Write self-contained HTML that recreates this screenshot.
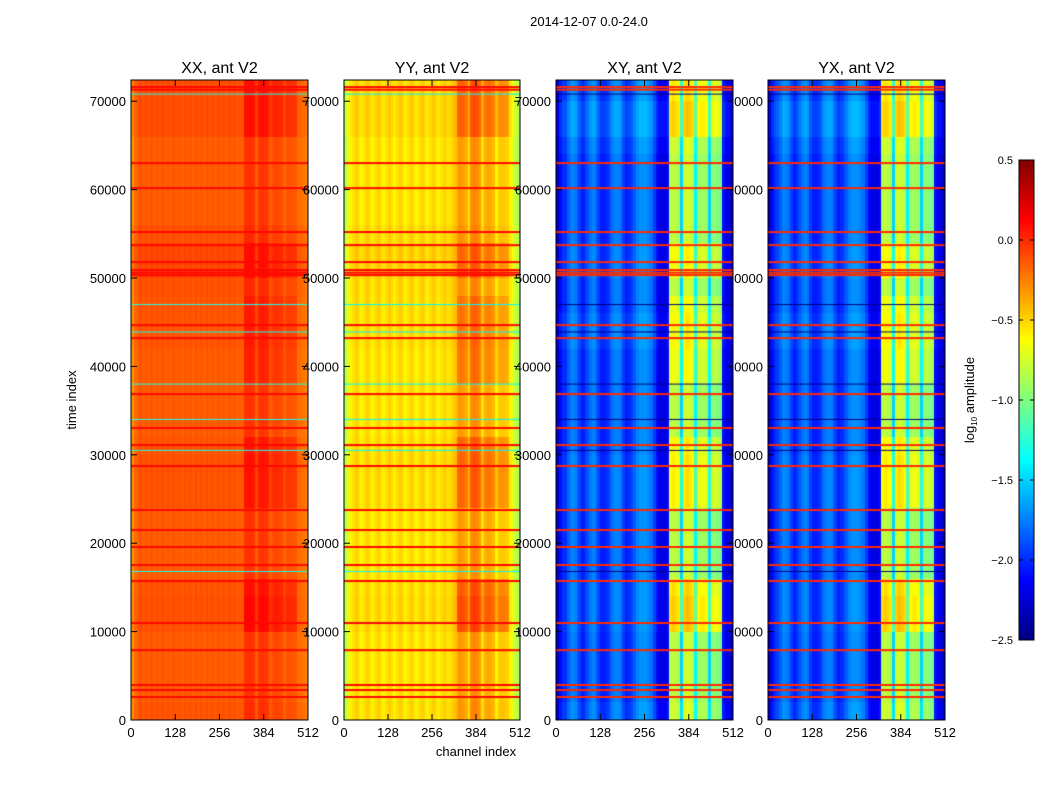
<!DOCTYPE html>
<html><head><meta charset="utf-8">
<style>
body{margin:0;background:#fff;width:1050px;height:800px;overflow:hidden;position:relative;font-family:"Liberation Sans",sans-serif;}
canvas{position:absolute;}
svg{position:absolute;left:0;top:0;}
</style></head>
<body>
<canvas id="c0" width="177" height="640" style="left:131px;top:80px;z-index:2"></canvas>
<canvas id="c1" width="176" height="640" style="left:344px;top:80px;z-index:2"></canvas>
<svg id="labels" width="1050" height="800" style="z-index:3"></svg>
<canvas id="c2" width="177" height="640" style="left:556px;top:80px;z-index:4"></canvas>
<canvas id="c3" width="177" height="640" style="left:768px;top:80px;z-index:2"></canvas>
<canvas id="cb" width="15" height="480" style="left:1019px;top:160px;z-index:2"></canvas>
<svg id="frames" width="1050" height="800" style="z-index:5"></svg>
<script>
// ---- data ----
const panelTitles = ["XX, ant V2","YY, ant V2","XY, ant V2","YX, ant V2"];
const xTicks = [0,128,256,384,512];
const yTicks = [0,10000,20000,30000,40000,50000,60000,70000];
const cbTicks = [0.5,0.0,-0.5,-1.0,-1.5,-2.0,-2.5];
// channel profiles, 64 bins of 8 channels (log10 amplitude)
const xxProfile = [-0.3,-0.2,-0.15,-0.12,-0.15,-0.13,-0.16,-0.12,-0.15,-0.13,-0.16,-0.12,-0.15,-0.13,-0.16,-0.12,-0.15,-0.13,-0.16,-0.12,-0.15,-0.13,-0.16,-0.12,-0.15,-0.13,-0.16,-0.12,-0.15,-0.13,-0.16,-0.12,-0.15,-0.13,-0.16,-0.12,-0.15,-0.13,-0.16,-0.15,-0.15,-0.02,-0.02,-0.02,-0.04,-0.15,-0.04,-0.02,-0.04,-0.06,-0.15,-0.1,-0.08,-0.1,-0.1,-0.18,-0.12,-0.12,-0.13,-0.14,-0.2,-0.2,-0.22,-0.25];
const yyProfile = [-0.85,-0.7,-0.6,-0.55,-0.5,-0.55,-0.6,-0.55,-0.5,-0.55,-0.6,-0.55,-0.5,-0.55,-0.6,-0.55,-0.5,-0.55,-0.6,-0.55,-0.5,-0.55,-0.6,-0.55,-0.5,-0.55,-0.6,-0.55,-0.5,-0.55,-0.6,-0.55,-0.5,-0.55,-0.6,-0.55,-0.5,-0.55,-0.55,-0.5,-0.45,-0.35,-0.32,-0.35,-0.4,-0.55,-0.3,-0.27,-0.3,-0.35,-0.55,-0.4,-0.37,-0.4,-0.43,-0.6,-0.48,-0.45,-0.48,-0.5,-0.6,-0.7,-0.8,-0.9];
const xyProfile = [-2.3,-2.1,-2.0,-2.0,-1.85,-1.75,-1.75,-1.8,-1.95,-2.05,-2.0,-1.9,-1.8,-1.75,-1.8,-1.95,-2.05,-2.05,-2.0,-1.9,-1.8,-1.75,-1.75,-1.8,-1.95,-2.05,-2.0,-1.95,-1.85,-1.75,-1.7,-1.7,-1.7,-1.75,-1.8,-1.95,-2.1,-2.2,-2.2,-2.2,-2.1,-0.85,-0.8,-0.85,-0.9,-1.5,-0.8,-0.75,-0.8,-0.85,-1.4,-0.95,-0.9,-0.9,-0.95,-1.5,-1.0,-0.95,-1.0,-1.05,-2.1,-2.2,-2.2,-2.3];
const yxProfile = [-2.3,-2.1,-2.0,-1.95,-1.85,-1.75,-1.75,-1.8,-1.95,-2.05,-2.0,-1.9,-1.8,-1.75,-1.8,-1.95,-2.05,-2.05,-2.0,-1.9,-1.8,-1.75,-1.75,-1.8,-1.95,-2.05,-2.0,-1.95,-1.85,-1.75,-1.7,-1.7,-1.7,-1.75,-1.8,-1.95,-2.1,-2.2,-2.2,-2.2,-2.1,-0.85,-0.8,-0.85,-0.9,-1.5,-0.8,-0.75,-0.8,-0.85,-1.4,-0.95,-0.9,-0.9,-0.95,-1.5,-1.0,-0.95,-1.0,-1.05,-2.1,-2.2,-2.2,-2.3];
// time-bin offsets, 36 bins of 2000
const autoRowOffset = [0.02,0,0,0,0,0.03,0.03,0.02,0,0,0,0,0.02,0.02,0.03,0.02,0,0,0,0,0,0.02,0.02,0.02,0.03,0.06,0.06,0.03,0,0,0,0,0,0.04,0.04,0.04];
const crossRowOffset = [0.05,0,0,0,0,0.03,0.03,0.03,0,0,0,0,0.03,0.03,0.03,0,0,0,0,0,0,0.05,0.05,0,0,0.03,0.03,0,0,0,0,0,0.05,0.12,0.12,0.05];
const rfiBoost = [0,0,0,0,0,0.3,0.3,0.25,0,0,0,0,0.2,0.2,0.2,0.2,0,0,0,0.15,0.15,0.15,0.15,0.15,0,0.15,0.15,0,0,0,0,0,0,0.2,0.2,0.2];
const rfiScaleByPanel = [0.35,0.7,1,1];
// flagged (RFI) time rows
const flagTimes = [71600,71300,63000,60170,55200,53720,51800,50900,50600,50330,44670,43200,36870,33030,31100,28730,23750,21490,19570,17530,15720,10970,7900,3960,3390,2600];
const flagValueByPanel = [0.1,0.1,0.0,0.0];
const lowTimes = [70800,43900,38000,34000,47000,30500,16800];
const lowValueByPanel = [-1.3,-1.4,-2.5,-2.5];
const tMax = 72400;
const profiles = [xxProfile,yyProfile,xyProfile,yxProfile];
const rowOffsets = [autoRowOffset,autoRowOffset,crossRowOffset,crossRowOffset];

// ---- scales ----
const vmin=-2.5, vmax=0.5;
function jet(v){let t=(v-vmin)/(vmax-vmin);t=Math.max(0,Math.min(1,t));
 const c=x=>Math.round(255*Math.max(0,Math.min(1,x)));
 return [c(1.5-Math.abs(4*t-3)),c(1.5-Math.abs(4*t-2)),c(1.5-Math.abs(4*t-1))];}
const panelX=[131,344,556,768], panelW=[177,176,177,177], topY=80, H=640;
function yOf(t){return H - t/tMax*H;}
function xOf(ch,w){return ch/512*w;}

// ---- heatmaps ----
for(let p=0;p<4;p++){
 const cv=document.getElementById('c'+p), ctx=cv.getContext('2d'), w=panelW[p];
 const prof=profiles[p], ro=rowOffsets[p];
 const img=ctx.createImageData(w,H);
 for(let y=0;y<H;y++){
  const t=(H-y-0.5)/H*tMax; const bi=Math.min(35,Math.floor(t/2000));
  for(let x=0;x<w;x++){
   const ch=(x+0.5)/w*512; const k=Math.min(63,Math.floor(ch/8));
   let v=prof[k]+ro[bi]; if(ch>=328&&ch<480) v+=rfiBoost[bi]*rfiScaleByPanel[p];
   const c=jet(v), i=(y*w+x)*4; img.data[i]=c[0];img.data[i+1]=c[1];img.data[i+2]=c[2];img.data[i+3]=255;
  }}
 ctx.putImageData(img,0,0);
 flagTimes.forEach(t=>{const c=jet(flagValueByPanel[p]);ctx.fillStyle='rgb('+c.join(',')+')';ctx.fillRect(0,yOf(t)-1,w,2);});
 lowTimes.forEach(t=>{const c=jet(lowValueByPanel[p]);ctx.fillStyle='rgb('+c.join(',')+')';ctx.fillRect(0,yOf(t)-0.5,w,1);});
}
// colorbar
{const ctx=document.getElementById('cb').getContext('2d');
 for(let y=0;y<480;y++){const v=vmax-(y+0.5)/480*(vmax-vmin);const c=jet(v);ctx.fillStyle='rgb('+c.join(',')+')';ctx.fillRect(0,y,15,1);}}

// ---- labels & frames ----
const NS='http://www.w3.org/2000/svg';
const Lsvg=document.getElementById('labels'), Fsvg=document.getElementById('frames');
function mk(parent,tag,attrs,txt){const el=document.createElementNS(NS,tag);for(const k in attrs)el.setAttribute(k,attrs[k]);if(txt!=null)el.textContent=txt;parent.appendChild(el);return el;}
let el=mk(Lsvg,'text',{x:589,y:26,'font-size':13,'text-anchor':'middle',fill:'#000'},'2014-12-07 0.0-24.0');


for(let p=0;p<4;p++){
 const x0=panelX[p], w=panelW[p];
 el=mk(Lsvg,'text',{x:x0+w/2,y:73,'font-size':16,'text-anchor':'middle'},panelTitles[p]);
 
 
 yTicks.forEach(t=>{const y=topY+yOf(t);
  el=mk(Lsvg,'text',{x:x0-5,y:y+5,'font-size':13,'text-anchor':'end'},String(t));
  
  
  mk(Fsvg,'line',{x1:x0,x2:x0+6,y1:y,y2:y,stroke:'#000'});
  mk(Fsvg,'line',{x1:x0+w-6,x2:x0+w,y1:y,y2:y,stroke:'#000'});});
 xTicks.forEach(c=>{const x=x0+xOf(c,w);
  el=mk(Lsvg,'text',{x:x,y:737,'font-size':13,'text-anchor':'middle'},String(c));
  
  
  mk(Fsvg,'line',{x1:x,x2:x,y1:topY+H,y2:topY+H-6,stroke:'#000'});
  mk(Fsvg,'line',{x1:x,x2:x,y1:topY,y2:topY+6,stroke:'#000'});});
 el=mk(Fsvg,'rect',{x:x0,y:topY,width:w,height:H,fill:'none',stroke:'#000','stroke-width':1});
 
 
}
el=mk(Lsvg,'text',{x:476,y:756,'font-size':13,'text-anchor':'middle'},'channel index');


el=mk(Lsvg,'text',{x:76,y:400,'font-size':13,'text-anchor':'middle',transform:'rotate(-90 76 400)'},'time index');


cbTicks.forEach(v=>{const y=160+(vmax-v)/(vmax-vmin)*480;
 el=mk(Lsvg,'text',{x:1013,y:y+4,'font-size':11,'text-anchor':'end'},(v<0?'\u2212':'')+Math.abs(v).toFixed(1));
 
 
 mk(Fsvg,'line',{x1:1019,x2:1023,y1:y,y2:y,stroke:'#000'});mk(Fsvg,'line',{x1:1030,x2:1034,y1:y,y2:y,stroke:'#000'});});
mk(Fsvg,'rect',{x:1019,y:160,width:15,height:480,fill:'none',stroke:'#000'});
const cl=mk(Lsvg,'text',{x:974,y:400,'font-size':13,'text-anchor':'middle',transform:'rotate(-90 974 400)'});


mk(cl,'tspan',{},'log');mk(cl,'tspan',{'font-size':8,dy:3},'10');mk(cl,'tspan',{dy:-3},' amplitude');
</script>
</body></html>
